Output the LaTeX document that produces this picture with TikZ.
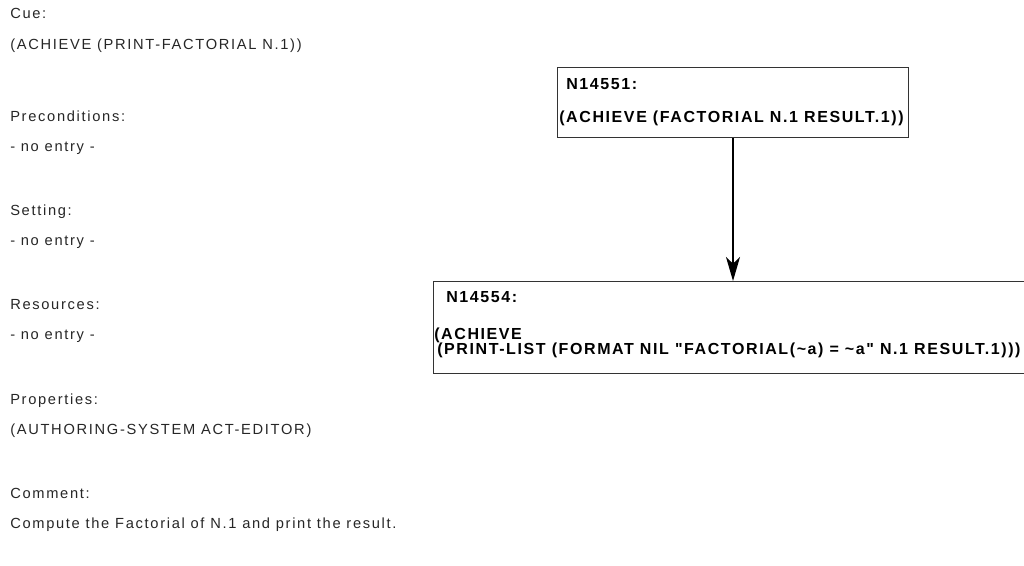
\documentclass[tikz,border=0pt]{standalone}
\usepackage{fontspec}
\setmainfont{Liberation Sans}
\newfontfamily\attrfont{Liberation Sans}[LetterSpace=11.5]
\newfontfamily\boxfont{Liberation Sans}[Ligatures=TeXOff,LetterSpace=10]
\usetikzlibrary{arrows.meta}
\begin{document}
\begin{tikzpicture}[x=0.75pt,y=-0.75pt,
  lbl/.style={anchor=base west,inner sep=0pt,font=\attrfont\fontsize{11}{13}\selectfont,text=black!85},
  boxtxt/.style={anchor=base west,inner sep=0pt,font=\boxfont\bfseries\fontsize{12}{14}\selectfont},
  plannode/.style={draw=black!80,line width=1.1pt,rectangle,inner sep=0pt,anchor=north west},
  link/.style={line width=0.9pt,-{Stealth[length=18pt,width=10.5pt,inset=5pt]}}]
\useasboundingbox (0,0) rectangle (1024,566);
\clip (0,0) rectangle (1024,566);

% attribute list on the left
\node[lbl] (cue)   at (10,19)  {Cue:};
\node[lbl] (cuev)  at (10,50)  {(ACHIEVE (PRINT-FACTORIAL N.1))};
\node[lbl] (pre)   at (10,122) {Preconditions:};
\node[lbl] (prev)  at (10,152) {- no entry -};
\node[lbl] (set)   at (10,216) {Setting:};
\node[lbl] (setv)  at (10,246) {- no entry -};
\node[lbl] (res)   at (10,310) {Resources:};
\node[lbl] (resv)  at (10,340) {- no entry -};
\node[lbl] (prop)  at (10,404) {Properties:};
\node[lbl] (propv) at (10,434) {(AUTHORING-SYSTEM ACT-EDITOR)};
\node[lbl] (com)   at (10,498) {Comment:};
\node[lbl] (comv)  at (10,528) {Compute the Factorial of N.1 and print the result.};

% plan nodes
\node[plannode,minimum width=351*0.75pt,minimum height=70*0.75pt] (n1) at (557,67) {};
\node[boxtxt] (n1id) at (566,90)  {N14551:};
\node[boxtxt] (n1g)  at (559,123) {(ACHIEVE (FACTORIAL N.1 RESULT.1))};

\node[plannode,minimum width=620*0.75pt,minimum height=92*0.75pt] (n2) at (433,281) {};
\node[boxtxt] (n2id) at (446,303) {N14554:};
\node[boxtxt] (n2g)  at (434,340) {(ACHIEVE};
\node[boxtxt] (n2g2) at (437,355) {(PRINT-LIST (FORMAT NIL "FACTORIAL(\char`\~a) = \char`\~a" N.1 RESULT.1)))};

% ordering link
\draw[link] (n1.south -| 733,0) -- (n2.north -| 733,0);
\end{tikzpicture}
\end{document}
